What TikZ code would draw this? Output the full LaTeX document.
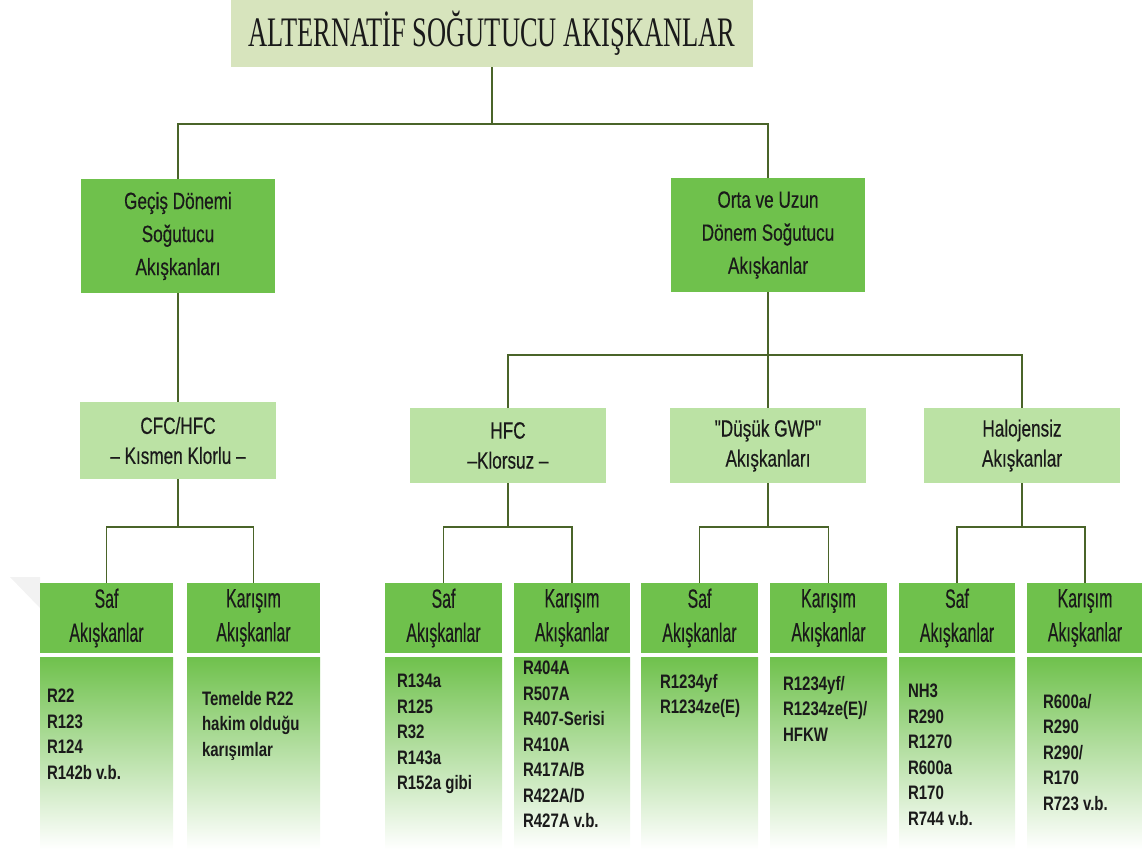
\documentclass[tikz,border=0pt]{standalone}
\usepackage{fontspec}
\setmainfont{Liberation Sans}
\newfontfamily\titlefont[FakeStretch=0.63]{Liberation Serif}
\newfontfamily\boxfont[FakeStretch=0.73,FakeBold=0.4]{Liberation Sans}
\newfontfamily\headfont[FakeStretch=0.6,FakeBold=0.4]{Liberation Sans}
\newfontfamily\listfont[FakeStretch=0.77]{Liberation Sans}
\usetikzlibrary{positioning,calc}

\definecolor{titlegreen}{HTML}{D7E4BD}
\definecolor{darkbox}{HTML}{6FC14C}
\definecolor{lightbox}{HTML}{BBE2A4}
\definecolor{linegreen}{HTML}{4A6429}
\definecolor{textdark}{HTML}{1A1A1A}

\begin{document}
\begin{tikzpicture}[x=1pt,y=-1pt,
  every node/.style={inner sep=0pt,outer sep=0pt,text=textdark},
  titlebox/.style={fill=titlegreen,minimum width=522pt,minimum height=68pt,font=\titlefont\fontsize{42}{46}\selectfont},
  mainbox/.style={fill=darkbox,minimum width=194pt,minimum height=114pt,align=center,font=\boxfont\fontsize{23.5}{33}\selectfont},
  subbox/.style={fill=lightbox,minimum width=196pt,minimum height=75pt,align=center,font=\boxfont\fontsize{23.5}{30}\selectfont},
  headbox/.style={fill=darkbox,minimum height=70pt,align=center,font=\headfont\fontsize{26.5}{34}\selectfont},
  listbox/.style={top color=darkbox,bottom color=white,minimum height=192pt},
  listtext/.style={anchor=north west,align=left,font=\listfont\bfseries\fontsize{19.5}{25.5}\selectfont},
  link/.style={draw=linegreen,line width=1.8pt}]
\useasboundingbox (0,0) rectangle (1142,849);

% faint corner wedge
\fill[gray!10] (10,577) -- (40,577) -- (40,608) -- cycle;

% top
\node[titlebox] (title) at (492,33) {ALTERNATİF SOĞUTUCU AKIŞKANLAR};

% first level
\node[mainbox] (gecis) at (178,236) {Geçiş Dönemi\\Soğutucu\\Akışkanları};
\node[mainbox] (orta) at (768,235) {Orta ve Uzun\\Dönem Soğutucu\\Akışkanlar};

% second level
\node[subbox,minimum height=77pt] (cfc) at (178,440.5) {CFC/HFC\\– Kısmen Klorlu –};
\node[subbox] (hfc) at (508,445.5) {HFC\\–Klorsuz –};
\node[subbox] (dusuk) at (768,445.5) {"Düşük GWP"\\Akışkanları};
\node[subbox] (halo) at (1022,445.5) {Halojensiz\\Akışkanlar};

% headers
\node[headbox,minimum width=133pt] (saf1) at (106.5,618) {Saf\\Akışkanlar};
\node[headbox,minimum width=133pt] (kar1) at (253.5,618) {Karışım\\Akışkanlar};
\node[headbox,minimum width=117pt] (saf2) at (443.5,618) {Saf\\Akışkanlar};
\node[headbox,minimum width=116pt] (kar2) at (572,618) {Karışım\\Akışkanlar};
\node[headbox,minimum width=117pt] (saf3) at (699.5,618) {Saf\\Akışkanlar};
\node[headbox,minimum width=117pt] (kar3) at (828.5,618) {Karışım\\Akışkanlar};
\node[headbox,minimum width=116pt] (saf4) at (957,618) {Saf\\Akışkanlar};
\node[headbox,minimum width=116pt] (kar4) at (1085,618) {Karışım\\Akışkanlar};

% lists
\node[listbox,minimum width=133pt] (lsaf1) at (106.5,753) {};
\node[listbox,minimum width=133pt] (lkar1) at (253.5,753) {};
\node[listbox,minimum width=117pt] (lsaf2) at (443.5,753) {};
\node[listbox,minimum width=116pt] (lkar2) at (572,753) {};
\node[listbox,minimum width=117pt] (lsaf3) at (699.5,753) {};
\node[listbox,minimum width=117pt] (lkar3) at (828.5,753) {};
\node[listbox,minimum width=116pt] (lsaf4) at (957,753) {};
\node[listbox,minimum width=116pt] (lkar4) at (1085,753) {};

\node[listtext] (tsaf1) at ([shift={(7,32)}]lsaf1.north west) {R22\\R123\\R124\\R142b v.b.};
\node[listtext] (tkar1) at ([shift={(15,34)}]lkar1.north west) {Temelde R22\\hakim olduğu\\karışımlar};
\node[listtext] (tsaf2) at ([shift={(12,17)}]lsaf2.north west) {R134a\\R125\\R32\\R143a\\R152a gibi};
\node[listtext] (tkar2) at ([shift={(9,4)}]lkar2.north west) {R404A\\R507A\\R407-Serisi\\R410A\\R417A/B\\R422A/D\\R427A v.b.};
\node[listtext] (tsaf3) at ([shift={(19,17)}]lsaf3.north west) {R1234yf\\R1234ze(E)};
\node[listtext] (tkar3) at ([shift={(13,19)}]lkar3.north west) {R1234yf/\\R1234ze(E)/\\HFKW};
\node[listtext] (tsaf4) at ([shift={(9,27)}]lsaf4.north west) {NH3\\R290\\R1270\\R600a\\R170\\R744 v.b.};
\node[listtext] (tkar4) at ([shift={(16,37)}]lkar4.north west) {R600a/\\R290\\R290/\\R170\\R723 v.b.};

% connectors
\draw[link] (title.south) -- ++(0,57) coordinate (j1);
\draw[link] (gecis.north) |- (j1) -| (orta.north);
\draw[link] (gecis.south) -- (cfc.north);
\draw[link] (orta.south) -- (dusuk.north);
\draw[link] (hfc.north) -- ++(0,-53) -| (halo.north);
\foreach \p/\l/\r in {cfc/saf1/kar1, hfc/saf2/kar2, dusuk/saf3/kar3, halo/saf4/kar4}{
  \draw[link] (\l.north) -- ++(0,-56) coordinate (b\l) -| (\r.north);
  \draw[link] (\p.south) -- (\p.south |- b\l);
}
\end{tikzpicture}
\end{document}
